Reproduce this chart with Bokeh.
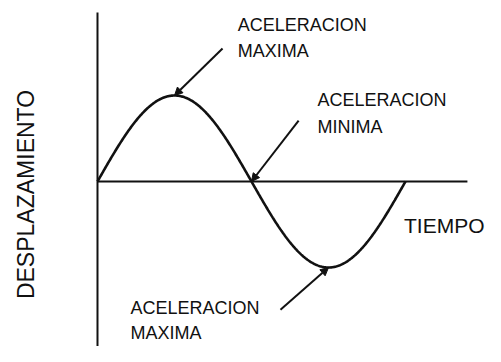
import numpy as np
from bokeh.plotting import figure
from bokeh.models import Arrow, NormalHead
from bokeh.core.properties import value
from bokeh.embed import file_html
from bokeh.resources import INLINE

# Data: one period of the displacement (unit amplitude), time in periods
period = 1.0
amplitude = 1.0
axis_top = 1.965
axis_bottom = -2.2
axis_right = 1.201

labels_text = ["ACELERACION", "MAXIMA", "ACELERACION", "MINIMA", "ACELERACION", "MAXIMA"]
x_label = "TIEMPO"
y_label = "DESPLAZAMIENTO"

# annotation points: (curve point t, d) -> maximum, zero crossing, minimum
point_t = [0.25, 0.5, 0.75]
point_d = [1.0, 0.0, -1.0]

t = np.linspace(0, period, 400)
d = amplitude * np.sin(2 * np.pi * t / period)

ink = "#111111"
font = value("Liberation Sans")

p = figure(width=485, height=346, output_backend="svg", toolbar_location=None,
           x_range=(-0.3149, 1.2597), y_range=(-1.9186, 2.1047),
           min_border=0, outline_line_color=None)
p.axis.visible = False
p.grid.visible = False
p.background_fill_color = "white"
p.border_fill_color = "white"

# axes lines
p.line([0, 0], [axis_bottom, axis_top], line_color=ink, line_width=2)
p.line([0, axis_right], [0, 0], line_color=ink, line_width=2)

# sine curve
p.line(t, d, line_color=ink, line_width=2.6)

# arrows
starts = [(0.406, 1.547), (0.653, 0.709), (0.594, -1.49)]
for (sx, sy), ex, ey in zip(starts, point_t, point_d):
    p.add_layout(Arrow(end=NormalHead(size=8, fill_color=ink, line_color=ink),
                       x_start=sx, y_start=sy, x_end=ex, y_end=ey,
                       line_color=ink, line_width=2))

# labels
lx = [0.455, 0.455, 0.714, 0.714, 0.107, 0.107]
ly = [1.814, 1.523, 0.942, 0.628, -1.47, -1.76]
p.text(lx, ly, text=labels_text, text_font=font, text_font_size="18px",
       text_baseline="middle", text_align="left", text_color=ink)

p.text([1.2565], [-0.512], text=[x_label], text_font=font, text_font_size="21px",
       text_baseline="middle", text_align="right", text_color=ink)
p.text([-0.2305], [-0.151], text=[y_label], text_font=font, text_font_size="23px",
       text_baseline="middle", text_align="center", angle=np.pi / 2, text_color=ink)

open("out.html", "w").write(file_html(p, INLINE))
